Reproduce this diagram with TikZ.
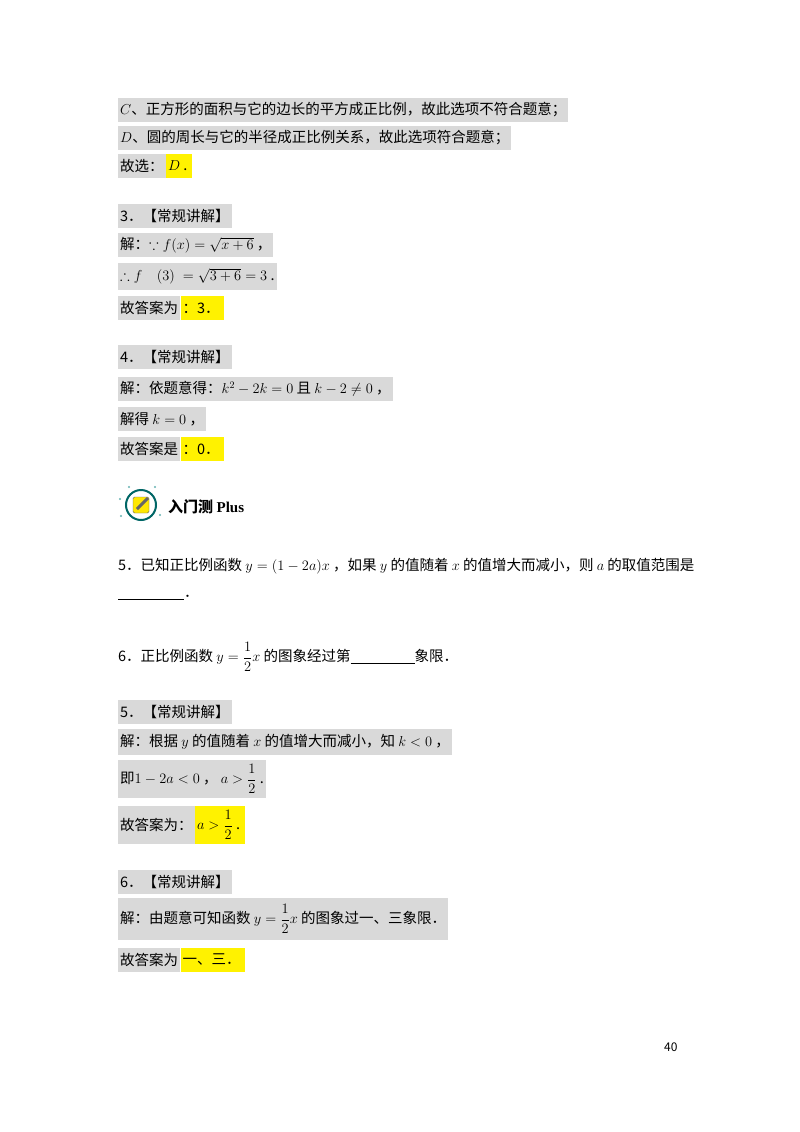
\documentclass[tikz,border=0pt]{standalone}
\usepackage{amsmath,amssymb}
\usepackage{fontspec}
\setmainfont{Noto Sans CJK SC}
\newfontfamily\serifb{Liberation Serif}
\begin{document}
\begin{tikzpicture}[x=1pt,y=-1pt,font=\fontsize{14.5}{16}\selectfont,
  g/.style={fill=black!15,anchor=west,inner xsep=2pt,inner ysep=0pt,minimum height=24pt},
  yl/.style={fill=yellow,anchor=west,inner xsep=2pt,inner ysep=0pt,minimum height=24pt},
  t/.style={anchor=west,inner sep=0pt}]
\useasboundingbox (0,0) rectangle (800,1132);
\fill[white] (0,0) rectangle (800,1132);
\node[g] (c1) at (118,110) {$C$、正方形的面积与它的边长的平方成正比例，故此选项不符合题意；};
\node[g] (c2) at (118,138) {$D$、圆的周长与它的半径成正比例关系，故此选项符合题意；};
\node[g] (c3) at (118,166) {故选：};
\node[yl] (c3y) at (c3.east) {$D$ .\,};
\node[g] (h3) at (118,216) {3．【常规讲解】};
\node[g] (s31) at (118,245) {解：$\because f(x)=\sqrt{x+6}$ ，};
\node[g,minimum height=27pt] (s32) at (118,276) {$\therefore f\quad(3)\;=\sqrt{3+6}=3$ .};
\node[g] (s33) at (118,308) {故答案为};
\node[yl] (s33y) at (s33.east) {：3．\,};
\node[g] (h4) at (118,357) {4．【常规讲解】};
\node[g] (s41) at (118,389) {解：依题意得：$k^2-2k=0$ 且 $k-2\neq0$ ，};
\node[g] (s42) at (118,419) {解得 $k=0$ ，};
\node[g] (s43) at (118,449) {故答案是};
\node[yl] (s43y) at (s43.east) {：0．\,};
% icon
\begin{scope}[shift={(141,505)}]
\draw[teal!80!black,line width=2pt] (0,0) circle (15);
\fill[yellow!90!orange,draw=black!60,rounded corners=1.5pt] (-8,-8) rectangle (8,8);
\draw[black!60,line width=3pt] (-4,4) -- (7,-7);
\fill[teal!60] (-21,-6) circle (1.2) (19,10) circle (1.2) (-12,-18) circle (1.2) (14,-18) circle (1.2) (-20,11) circle (1.2);
\end{scope}
\node[t,font=\fontsize{15}{16}\selectfont\bfseries] (title) at (168,507) {入门测 {\serifb\bfseries Plus}};
\node[t] (q5) at (118,566) {5．已知正比例函数 $y=(1-2a)x$ ，如果 $y$ 的值随着 $x$ 的值增大而减小，则 $a$ 的取值范围是};
\node[t] (q5b) at (118,598) {\underline{\hspace{66pt}}．};
\node[t] (q6) at (118,657) {6．正比例函数 $y=\dfrac{1}{2}x$ 的图象经过第\underline{\hspace{64pt}}象限．};
\node[g] (h5) at (118,712) {5．【常规讲解】};
\node[g,minimum height=26pt] (s51) at (118,742) {解：根据 $y$ 的值随着 $x$ 的值增大而减小，知 $k<0$ ，};
\node[g,minimum height=38pt] (s52) at (118,779) {即$1-2a<0$ ，\ $a>\dfrac{1}{2}$ .};
\node[g,minimum height=38pt] (s53) at (118,825) {故答案为：};
\node[yl,minimum height=38pt] (s53y) at (s53.east) {$a>\dfrac{1}{2}$ .\,};
\node[g] (h6) at (118,882) {6．【常规讲解】};
\node[g,minimum height=42pt] (s61) at (118,919) {解：由题意可知函数 $y=\dfrac{1}{2}x$ 的图象过一、三象限．};
\node[g] (s62) at (118,960) {故答案为};
\node[yl] (s62y) at (s62.east) {一、三．\,};
\node[t,font=\fontsize{12}{14}\selectfont] (pg) at (664,1047) {40};
\end{tikzpicture}
\end{document}
